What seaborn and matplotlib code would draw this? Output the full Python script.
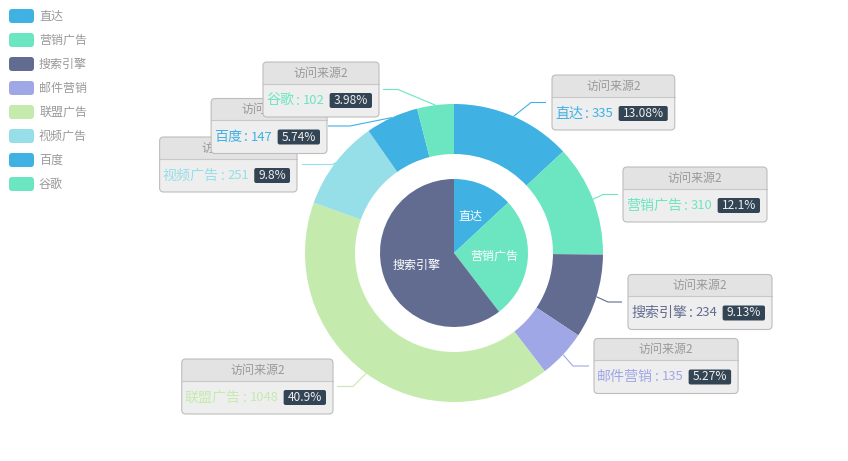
import matplotlib
matplotlib.use('Agg')
import matplotlib.pyplot as plt
import numpy as np
import seaborn as sns
from matplotlib.patches import FancyBboxPatch, Rectangle

# dados
inner_names = ['直达', '营销广告', '搜索引擎']
inner_values = [335, 679, 1548]

outer_names = ['直达', '营销广告', '搜索引擎', '邮件营销', '联盟广告', '视频广告', '百度', '谷歌']
outer_values = [335, 310, 234, 135, 1048, 251, 147, 102]
outer_pcts = ['13.08', '12.1', '9.13', '5.27', '40.9', '9.8', '5.74', '3.98']

legend_names = ['直达', '营销广告', '搜索引擎', '邮件营销', '联盟广告', '视频广告', '百度', '谷歌']
series_name = '访问来源2'

walden = ['#3fb1e3', '#6be6c1', '#626c91', '#a0a7e6', '#c4ebad', '#96dee8']

W, H = 848, 461
CX, CY = 454, 253

# layout dos rotulos: borda da caixa junto ao grafico, centro y, cotovelo x, fim da linha x
label_layout = [
    (552, 102.5, 531, 546),
    (623, 194.5, 603, 618),
    (628, 302, 608, 622),
    (594, 366, 573, 589),
    (333, 386.5, 353, 337),
    (297, 164.5, 333, 302),
    (327, 126, 350, 328),
    (379, 89.5, 398, 383),
]


def px(v):
    return v * 72 / 100


def mid_point(wedge, r):
    ang = np.deg2rad((wedge.theta1 + wedge.theta2) / 2)
    return wedge.center[0] + r * np.cos(ang), wedge.center[1] + r * np.sin(ang)


def text_width(ax, renderer, s, size):
    t = ax.text(0, 0, s, fontsize=px(size))
    w = t.get_window_extent(renderer).width
    t.remove()
    return w


def desenhar_rotulo(ax, renderer, i, wedge, color):
    edge, cy, elbow_x, end_x = label_layout[i]
    name = outer_names[i]
    val = str(outer_values[i])
    pct = outer_pcts[i] + '%'

    wn = text_width(ax, renderer, name, 14)
    wc = text_width(ax, renderer, ':', 14)
    wv = text_width(ax, renderer, val, 13)
    wp = text_width(ax, renderer, pct, 12) + 8
    width = 3 + wn + 2 + wc + 3 + wv + 5 + wp + 7
    left = edge if elbow_x > CX else edge - width
    top = cy - 27.5
    z = 10 + i * 6

    # linha guia
    sx, sy = mid_point(wedge, 149)
    ax.plot([sx, elbow_x, end_x], [sy, cy, cy], color=color, lw=0.8, zorder=5,
            solid_capstyle='butt')

    # caixa
    ax.add_patch(FancyBboxPatch((left, top), width, 55,
                                boxstyle='round,pad=0,rounding_size=4',
                                fc='#eeeeee', ec='none', zorder=z))
    ax.add_patch(FancyBboxPatch((left, top), width, 22,
                                boxstyle='round,pad=0,rounding_size=4',
                                fc='#e3e3e3', ec='none', zorder=z + 0.1))
    ax.add_patch(Rectangle((left, top + 11), width, 11, fc='#e3e3e3', ec='none',
                           zorder=z + 0.2))
    ax.plot([left, left + width], [top + 22, top + 22], color='#c8c8c8', lw=0.8,
            zorder=z + 0.3)
    ax.add_patch(FancyBboxPatch((left, top), width, 55,
                                boxstyle='round,pad=0,rounding_size=4',
                                fc='none', ec='#bdbdbd', lw=0.8, zorder=z + 0.4))

    ax.text(left + width / 2, top + 11, series_name, fontsize=px(12), color='#999999',
            ha='center', va='center', zorder=z + 1)
    by = top + 22 + 16.5
    x = left + 3
    ax.text(x, by, name, fontsize=px(14), color=color, ha='left', va='center', zorder=z + 1)
    x += wn + 2
    ax.text(x, by, ':', fontsize=px(14), color=color, ha='left', va='center', zorder=z + 1)
    x += wc + 3
    ax.text(x, by, val, fontsize=px(13), color=color, ha='left', va='center', zorder=z + 1)
    x += wv + 5
    ax.add_patch(FancyBboxPatch((x, by - 7.5), wp, 15,
                                boxstyle='round,pad=0,rounding_size=2',
                                fc='#334455', ec='none', zorder=z + 2))
    ax.text(x + wp / 2, by, pct, fontsize=px(12), color='#eeeeee', ha='center',
            va='center', zorder=z + 3)


def desenhar_legenda(ax, colors):
    for i, name in enumerate(legend_names):
        y = 16 + 24 * i
        ax.add_patch(FancyBboxPatch((9, y - 7), 25, 14,
                                    boxstyle='round,pad=0,rounding_size=3',
                                    fc=colors[i], ec='none', zorder=3))
        ax.text(39, y, name, fontsize=px(12), color='#999999', ha='left', va='center')


def gerar_plotagem():
    sns.set_theme(style='white')
    plt.rcParams['font.family'] = ['Noto Sans CJK SC', 'DejaVu Sans']
    colors = sns.color_palette(walden, n_colors=8)

    fig = plt.figure(figsize=(W / 100, H / 100), dpi=100)
    ax = fig.add_axes([0, 0, 1, 1])

    inner_wedges, _ = ax.pie(inner_values, radius=74, center=(CX, CY), startangle=-90,
                             counterclock=True, colors=colors[:3], frame=True,
                             wedgeprops=dict(linewidth=0))
    outer_wedges, _ = ax.pie(outer_values, radius=149, center=(CX, CY), startangle=-90,
                             counterclock=True, colors=colors, frame=True,
                             wedgeprops=dict(width=50, linewidth=0))

    ax.set_xlim(0, W)
    ax.set_ylim(H, 0)
    ax.set_aspect('equal')
    ax.axis('off')

    for w, name in zip(inner_wedges, inner_names):
        x, y = mid_point(w, 40)
        ax.text(x, y, name, fontsize=px(12), color='white', ha='center', va='center')

    renderer = fig.canvas.get_renderer()
    for i, w in enumerate(outer_wedges):
        desenhar_rotulo(ax, renderer, i, w, colors[i])

    desenhar_legenda(ax, colors)
    return fig


if __name__ == '__main__':
    fig = gerar_plotagem()
    fig.savefig('out.png', dpi=100, facecolor='white')
